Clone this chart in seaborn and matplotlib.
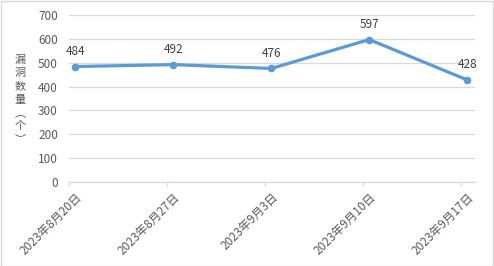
import matplotlib
matplotlib.use("Agg")
import matplotlib.pyplot as plt
import seaborn as sns
import pandas as pd
from matplotlib.patches import Rectangle

dates = ["2023年8月20日", "2023年8月27日", "2023年9月3日", "2023年9月10日", "2023年9月17日"]
counts = [484, 492, 476, 597, 428]
y_ticks = [0, 100, 200, 300, 400, 500, 600, 700]
y_label = "漏洞数量（个）"

sns.set_theme(style="white")
plt.rcParams['font.family'] = ['Noto Sans CJK SC', 'DejaVu Sans']

W, H = 494, 266
fig = plt.figure(figsize=(W / 100, H / 100), dpi=100)
ax = fig.add_axes([69 / W, 1 - 182 / H, (475 - 69) / W, (182 - 15) / H])

df = pd.DataFrame({"idx": range(len(dates)), "count": counts})
blue = "#5B9BD5"
sns.lineplot(data=df, x="idx", y="count", ax=ax, color=blue, linewidth=2.3,
             marker="o", markersize=5.5, markeredgewidth=0, markerfacecolor=blue)

fs = 8.5
ax.set_xlim(-0.066, 4.08)
ax.set_ylim(0, 700)
ax.set_yticks(y_ticks)
ax.set_yticklabels([str(v) for v in y_ticks], color="#595959", fontsize=fs)
ax.yaxis.grid(True, color="#D9D9D9", linewidth=0.9)
ax.xaxis.grid(False)
ax.tick_params(axis="y", length=0, pad=8)

ax.set_xticks(range(len(dates)))
ax.set_xticklabels(dates, rotation=45, ha="right", rotation_mode="anchor",
                   color="#595959", fontsize=fs)
ax.tick_params(axis="x", which="major", length=0, pad=6)
ax.set_xticks([i - 0.066 for i in range(len(dates))], minor=True)
ax.tick_params(axis="x", which="minor", length=3, color="#D9D9D9", width=0.9, bottom=True)

for s in ["top", "right", "left"]:
    ax.spines[s].set_visible(False)
ax.spines["bottom"].set_color("#D9D9D9")
ax.spines["bottom"].set_linewidth(0.9)
ax.set_xlabel("")
ax.set_ylabel("")

for i, v in enumerate(counts):
    ax.annotate(str(v), (i, v), xytext=(0, 11), textcoords="offset points",
                ha="center", va="center", color="#404040", fontsize=fs)

vchars = ["漏", "洞", "数", "量", "︵", "个", "︶"]
for k, ch in enumerate(vchars):
    fig.text(20 / W, 1 - (60 + 13.2 * k) / H, ch, ha="center", va="center",
             color="#595959", fontsize=8)

fig.patches.append(Rectangle((0.5 / W, 0.5 / H), 1 - 1.5 / W, 1 - 1.5 / H,
                             transform=fig.transFigure, fill=False,
                             edgecolor="#D9D9D9", linewidth=1))

fig.savefig("out.png", dpi=100)
